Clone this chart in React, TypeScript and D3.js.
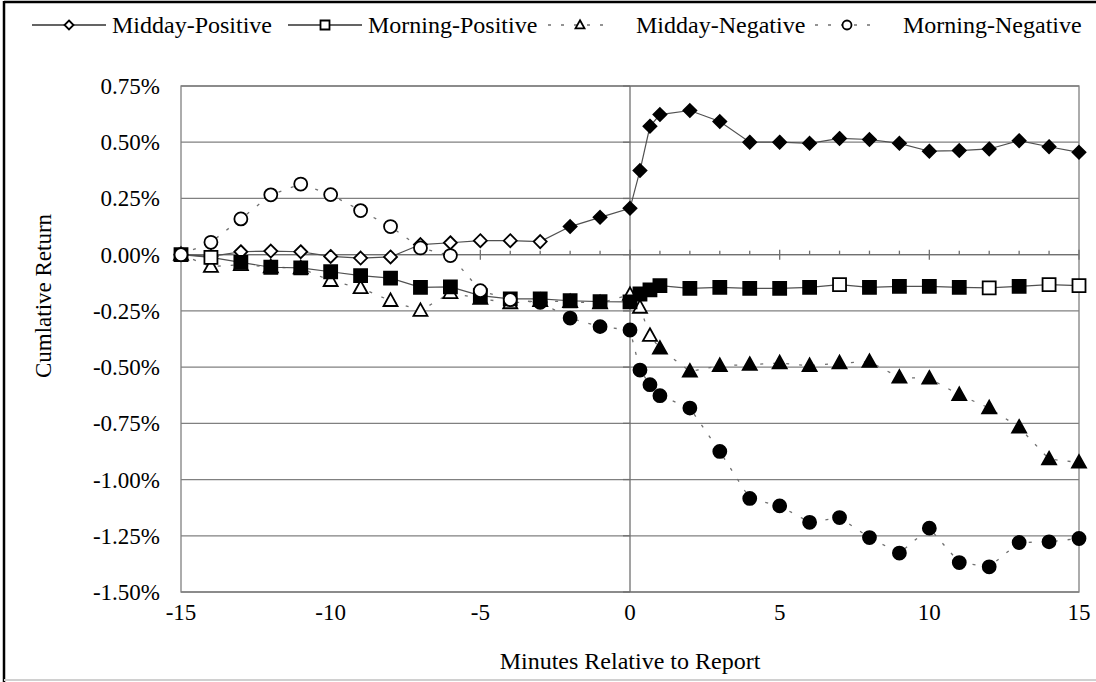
import React, { useEffect, useRef } from "react";
import * as d3 from "d3";

// minutes relative to the report (two 20-second steps right after it)
const minutes = [-15, -14, -13, -12, -11, -10, -9, -8, -7, -6, -5, -4, -3, -2, -1, 0, 1 / 3, 2 / 3,
  1, 2, 3, 4, 5, 6, 7, 8, 9, 10, 11, 12, 13, 14, 15];

// cumulative returns in percent
const middayPositive = [0, -0.008, 0.013, 0.016, 0.013, -0.008, -0.015, -0.01, 0.045, 0.053, 0.062, 0.062,
  0.058, 0.125, 0.166, 0.206, 0.374, 0.571, 0.623, 0.641, 0.592, 0.5, 0.5, 0.495, 0.517, 0.512, 0.495,
  0.46, 0.463, 0.47, 0.507, 0.48, 0.455];
const morningPositive = [0, -0.012, -0.034, -0.056, -0.059, -0.076, -0.093, -0.104, -0.145, -0.143, -0.182,
  -0.197, -0.197, -0.205, -0.209, -0.21, -0.175, -0.157, -0.138, -0.15, -0.145, -0.15, -0.15, -0.145,
  -0.133, -0.145, -0.141, -0.141, -0.145, -0.148, -0.141, -0.133, -0.138];
const middayNegative = [0, -0.053, -0.045, -0.055, -0.06, -0.116, -0.148, -0.205, -0.249, -0.17, -0.195,
  -0.215, -0.205, -0.21, -0.215, -0.178, -0.235, -0.36, -0.417, -0.519, -0.494, -0.489, -0.482, -0.494,
  -0.482, -0.476, -0.546, -0.55, -0.623, -0.682, -0.768, -0.909, -0.924];
const morningNegative = [0, 0.055, 0.159, 0.266, 0.314, 0.267, 0.196, 0.125, 0.03, -0.004, -0.16, -0.2,
  -0.212, -0.282, -0.32, -0.335, -0.513, -0.578, -0.627, -0.682, -0.875, -1.084, -1.117, -1.19, -1.169,
  -1.258, -1.327, -1.216, -1.369, -1.388, -1.28, -1.277, -1.262];

// 1 = significant (filled marker), 0 = not (hollow marker)
const middayPositiveSig = [0, 0, 0, 0, 0, 0, 0, 0, 0, 0, 0, 0, 0, 1, 1, 1, 1, 1, 1, 1, 1, 1, 1, 1, 1, 1, 1, 1, 1, 1, 1, 1, 1];
const morningPositiveSig = [1, 0, 1, 1, 1, 1, 1, 1, 1, 1, 1, 1, 1, 1, 1, 1, 1, 1, 1, 1, 1, 1, 1, 1, 0, 1, 1, 1, 1, 0, 1, 0, 0];
const middayNegativeSig = [0, 0, 0, 0, 0, 0, 0, 0, 0, 0, 0, 0, 0, 0, 0, 0, 0, 0, 1, 1, 1, 1, 1, 1, 1, 1, 1, 1, 1, 1, 1, 1, 1];
const morningNegativeSig = [0, 0, 0, 0, 0, 0, 0, 0, 0, 0, 0, 0, 1, 1, 1, 1, 1, 1, 1, 1, 1, 1, 1, 1, 1, 1, 1, 1, 1, 1, 1, 1, 1];

const seriesNames = ["Midday-Positive", "Morning-Positive", "Midday-Negative", "Morning-Negative"];
const xTicks = [-15, -10, -5, 0, 5, 10, 15];
const yTicks = [0.75, 0.5, 0.25, 0, -0.25, -0.5, -0.75, -1, -1.25, -1.5];

const FONT = "'Liberation Serif', 'Times New Roman', serif";

function markerPath(kind: string, r: number) {
  if (kind === "diamond") return `M0,${-r}L${r},0L0,${r}L${-r},0Z`;
  if (kind === "square") return `M${-r},${-r}H${r}V${r}H${-r}Z`;
  if (kind === "triangle") return `M0,${-r * 1.05}L${r},${r * 0.75}L${-r},${r * 0.75}Z`;
  return d3.arc()({ innerRadius: 0, outerRadius: r, startAngle: 0, endAngle: 2 * Math.PI }) as string;
}

export default function App() {
  const ref = useRef<SVGSVGElement>(null);

  useEffect(() => {
    const svg = d3.select(ref.current);
    svg.selectAll("*").remove();

    const W = 1096, H = 682;
    const margin = { top: 86, right: 17, bottom: 90, left: 181 };
    const x = d3.scaleLinear().domain([-15, 15]).range([margin.left, W - margin.right]);
    const y = d3.scaleLinear().domain([-1.5, 0.75]).range([H - margin.bottom, margin.top]);

    // outer frame
    svg.append("line").attr("x1", 4).attr("x2", 4).attr("y1", 1).attr("y2", H)
      .attr("stroke", "#000").attr("stroke-width", 2.5);
    svg.append("line").attr("x1", 4).attr("x2", W).attr("y1", 2).attr("y2", 2)
      .attr("stroke", "#000").attr("stroke-width", 2.5);
    svg.append("line").attr("x1", 4).attr("x2", W).attr("y1", H - 2).attr("y2", H - 2)
      .attr("stroke", "#d0d0d0").attr("stroke-width", 2);

    // gridlines
    svg.append("g").selectAll("line").data(yTicks).join("line")
      .attr("x1", x(-15)).attr("x2", x(15))
      .attr("y1", d => y(d)).attr("y2", d => y(d))
      .attr("stroke", "#808080").attr("stroke-width", 1.3);
    svg.append("rect")
      .attr("x", x(-15)).attr("y", y(0.75))
      .attr("width", x(15) - x(-15)).attr("height", y(-1.5) - y(0.75))
      .attr("fill", "none").attr("stroke", "#808080").attr("stroke-width", 1.3);

    // y axis sits at x = 0
    svg.append("line").attr("x1", x(0)).attr("x2", x(0)).attr("y1", y(0.75)).attr("y2", y(-1.5))
      .attr("stroke", "#707070").attr("stroke-width", 1.3);
    svg.append("g").selectAll("line").data(yTicks).join("line")
      .attr("x1", x(0) - 7).attr("x2", x(0))
      .attr("y1", d => y(d)).attr("y2", d => y(d))
      .attr("stroke", "#707070").attr("stroke-width", 1.3);

    // x axis sits at y = 0
    svg.append("line").attr("x1", x(-15)).attr("x2", x(15)).attr("y1", y(0)).attr("y2", y(0))
      .attr("stroke", "#707070").attr("stroke-width", 1.3);
    svg.append("g").selectAll("line").data(d3.range(-15, 16)).join("line")
      .attr("x1", d => x(d)).attr("x2", d => x(d))
      .attr("y1", d => y(0) - (d % 5 === 0 ? 5 : 4))
      .attr("y2", d => y(0) + (d % 5 === 0 ? 5 : 0))
      .attr("stroke", "#707070").attr("stroke-width", 1.3);

    // tick labels (plain hyphen for the minus sign, like the original)
    svg.append("g").selectAll("text").data(yTicks).join("text")
      .attr("x", 160).attr("y", d => y(d) + 8)
      .attr("text-anchor", "end")
      .style("font-family", FONT).style("font-size", "23px").attr("fill", "#000")
      .text(d => d.toFixed(2) + "%");
    svg.append("g").selectAll("text").data(xTicks).join("text")
      .attr("x", d => x(d)).attr("y", 620)
      .attr("text-anchor", "middle")
      .style("font-family", FONT).style("font-size", "23px").attr("fill", "#000")
      .text(d => String(d));

    // axis titles
    svg.append("text")
      .attr("x", x(0)).attr("y", 669)
      .attr("text-anchor", "middle")
      .style("font-family", FONT).style("font-size", "24px")
      .text("Minutes Relative to Report");
    svg.append("text")
      .attr("transform", "translate(51, 296) rotate(-90)")
      .attr("text-anchor", "middle")
      .style("font-family", FONT).style("font-size", "23px")
      .text("Cumlative Return");

    // series: drawn in this order so squares cover triangles and circles cover squares
    const series = [
      { name: seriesNames[0], vals: middayPositive, sig: middayPositiveSig, kind: "diamond", dashed: false },
      { name: seriesNames[2], vals: middayNegative, sig: middayNegativeSig, kind: "triangle", dashed: true },
      { name: seriesNames[1], vals: morningPositive, sig: morningPositiveSig, kind: "square", dashed: false },
      { name: seriesNames[3], vals: morningNegative, sig: morningNegativeSig, kind: "circle", dashed: true },
    ];

    const line = d3.line<number>().x((d, i) => x(minutes[i])).y(d => y(d));

    series.forEach(s => {
      const g = svg.append("g");
      g.append("path")
        .attr("d", line(s.vals))
        .attr("fill", "none")
        .attr("stroke", s.dashed ? "#707070" : "#505050")
        .attr("stroke-width", s.dashed ? 1.3 : 1.2)
        .attr("stroke-dasharray", s.dashed ? "3,10" : null);
      g.selectAll("path.mk").data(s.vals).join("path")
        .attr("class", "mk")
        .attr("transform", (d, i) => `translate(${x(minutes[i])},${y(d)})`)
        .attr("d", markerPath(s.kind, s.kind === "triangle" ? 7 : 6.5))
        .attr("fill", (d, i) => (s.sig[i] ? "#000" : "#fff"))
        .attr("stroke", "#000")
        .attr("stroke-width", 1.8);
    });

    // legend
    const legend = [
      { name: seriesNames[0], kind: "diamond", dashed: false, tx: 112 },
      { name: seriesNames[1], kind: "square", dashed: false, tx: 368 },
      { name: seriesNames[2], kind: "triangle", dashed: true, tx: 636 },
      { name: seriesNames[3], kind: "circle", dashed: true, tx: 903 },
    ];
    const lg = svg.append("g");
    legend.forEach(l => {
      const ly = 25;
      const x1 = l.dashed ? l.tx - 88 : l.tx - 80;
      const x2 = l.dashed ? l.tx - 28 : l.tx - 6;
      const mx = l.dashed ? l.tx - 56 : l.tx - 43;
      lg.append("line").attr("x1", x1).attr("x2", x2).attr("y1", ly).attr("y2", ly)
        .attr("stroke", l.dashed ? "#707070" : "#303030")
        .attr("stroke-width", 1.3)
        .attr("stroke-dasharray", l.dashed ? "3,10" : null);
      lg.append("path")
        .attr("transform", `translate(${mx},${ly})`)
        .attr("d", markerPath(l.kind, 4.5))
        .attr("fill", "#fff").attr("stroke", "#000").attr("stroke-width", 1.8);
      lg.append("text")
        .attr("x", l.tx).attr("y", 33)
        .style("font-family", FONT).style("font-size", "24px")
        .text(l.name);
    });
  }, []);

  return (
    <svg ref={ref} width={1096} height={682}
      style={{ position: "absolute", left: 0, top: 0, background: "#fff" }} />
  );
}
